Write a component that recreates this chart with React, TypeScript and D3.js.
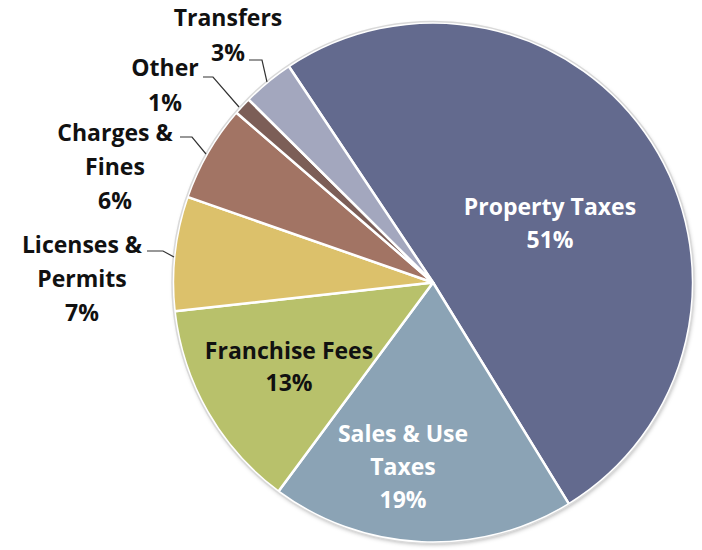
import React from "react";
import * as d3 from "d3";

const categories = ["Property Taxes", "Sales & Use Taxes", "Franchise Fees", "Licenses & Permits", "Charges & Fines", "Other", "Transfers"];
const values = [50.6, 18.9, 13.1, 7.1, 6.0, 1.1, 3.2];
const labelLines = [["Property Taxes"], ["Sales & Use", "Taxes"], ["Franchise Fees"], ["Licenses &", "Permits"], ["Charges &", "Fines"], ["Other"], ["Transfers"]];
const colors = ["#636a8e", "#8ba3b5", "#b8c16b", "#dcc16b", "#a27464", "#7c5e57", "#a3a7be"];
const textColors = ["#ffffff", "#ffffff", "#111111", "#111111", "#111111", "#111111", "#111111"];
// label centre positions (first line)
const labelPos = [[550, 207], [403, 434], [289, 351], [82, 245], [115, 133], [165, 68], [228, 18]];
const lineGaps = [33, 33, 32, 34, 34, 35, 35];
const leaders: number[][][] = [[], [], [], [[147, 251], [163, 251], [174, 257]], [[180, 137], [192, 137], [206, 154]], [[203, 77], [213, 77], [239, 107]], [[249, 60], [262, 60], [267, 82]]];

export default function App() {
  const W = 702, H = 550;
  const cx = 433, cy = 282.5, r = 260;
  const start = (-33.7 * Math.PI) / 180;
  const pie = d3.pie<number>().sort(null).value((d) => d).startAngle(start).endAngle(start + 2 * Math.PI);
  const arcs = pie(values);
  const arc = d3.arc<d3.PieArcDatum<number>>().innerRadius(0).outerRadius(r);
  const fs = 23;
  const line = d3.line();
  return (
    <svg width={W} height={H} style={{ position: "absolute", left: 0, top: 0 }}>
      <defs>
        <filter id="sh" x="-10%" y="-10%" width="120%" height="120%">
          <feDropShadow dx="1" dy="2" stdDeviation="2" floodColor="#000" floodOpacity="0.3" />
        </filter>
      </defs>
      <rect width={W} height={H} fill="#fff" />
      <circle cx={cx} cy={cy} r={r} fill="#ddd" filter="url(#sh)" />
      <g transform={`translate(${cx},${cy})`}>
        {arcs.map((a, i) => (
          <path key={i} d={arc(a) || ""} fill={colors[i]} stroke="#fff" strokeWidth={2.5} strokeLinejoin="round" />
        ))}
      </g>
      <circle cx={cx} cy={cy} r={r + 1} fill="none" stroke="#d9d9d9" strokeWidth={1.5} />
      {leaders.map((pts, i) =>
        pts.length ? <path key={i} d={line(pts as [number, number][]) || ""} fill="none" stroke="#333" strokeWidth={1.2} /> : null
      )}
      {categories.map((c, i) => {
        const lines = [...labelLines[i], `${Math.round(values[i])}%`];
        return (
          <text key={c} textAnchor="middle" fontFamily="'Open Sans', Lato, sans-serif" fontWeight={700} fontSize={fs} fill={textColors[i]}>
            {lines.map((t, j) => (
              <tspan key={j} x={labelPos[i][0]} y={labelPos[i][1] + j * lineGaps[i] + fs * 0.36}>
                {t}
              </tspan>
            ))}
          </text>
        );
      })}
    </svg>
  );
}
